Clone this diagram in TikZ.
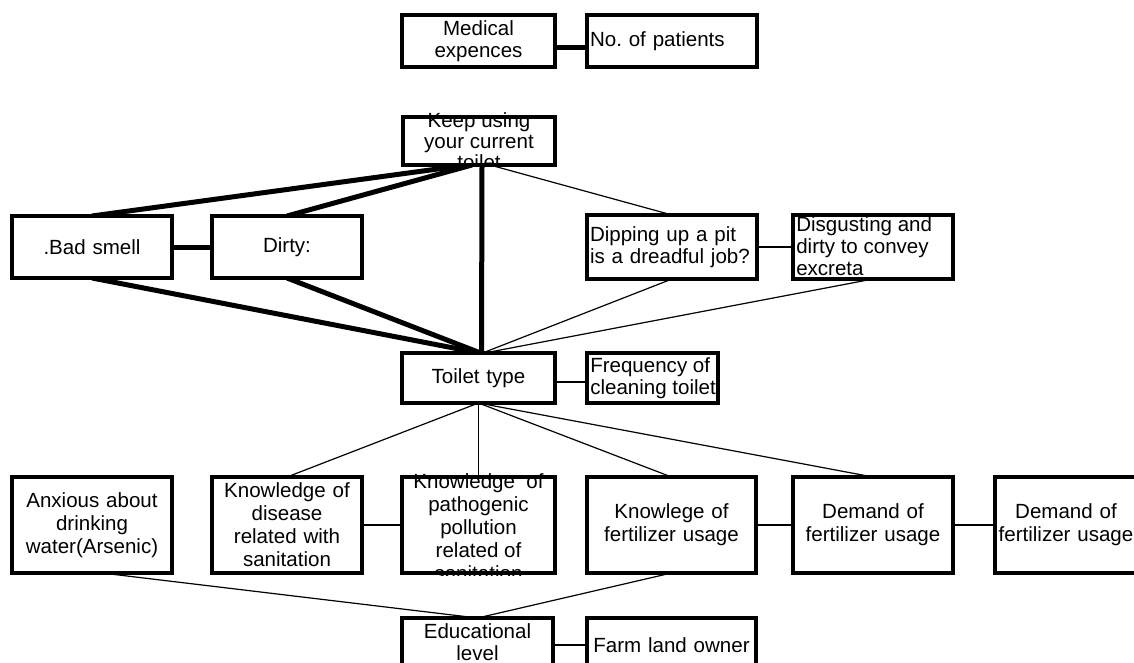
\documentclass[tikz,border=0pt]{standalone}
\usepackage{fontspec}
\setmainfont{Liberation Sans}
\usetikzlibrary{calc}
\hyphenpenalty=10000
\exhyphenpenalty=10000
\begin{document}
\begin{tikzpicture}[x=0.75pt,y=-0.75pt,
 box/.style={draw, line width=3pt, fill=white, outer sep=0pt, inner xsep=2.25pt, inner ysep=0pt, align=center, font=\fontsize{15.4}{16.5}\selectfont},
 lbox/.style={box, align=left},
 lowbox/.style={box, minimum height=72pt, font=\fontsize{15.4}{17.25}\selectfont},
 thk/.style={line width=3.75pt},
 thn/.style={line width=0.9pt},
 txt/.style={inner sep=0pt, align=center, font=\fontsize{15.4}{16.5}\selectfont},
 border/.style={line width=3pt}
]
\useasboundingbox (0,0) rectangle (1134,663);

% ---------- box positions ----------
\path
 (478.5,41) coordinate (pmedical)
 (672,41) coordinate (ppatients)
 (479,141) coordinate (pkeep)
 (92,247) coordinate (pbad)
 (287,247) coordinate (pdirty)
 (672,247) coordinate (pdipping)
 (873,247) coordinate (pdisgust)
 (478.5,378) coordinate (ptoilet)
 (652.5,378) coordinate (pfreq)
 (92,525) coordinate (panxious)
 (287,525) coordinate (pdisease)
 (478.5,525) coordinate (ppatho)
 (671.5,525) coordinate (pknowfert)
 (873,525) coordinate (pdemanda)
 (1066,525) coordinate (pdemandb)
 (477.5,645) coordinate (pedu)
 (671.5,645) coordinate (pfarm);

% helper nodes to attach connectors before the boxes are painted
\path[outer sep=0pt, inner sep=0pt]
 node[minimum width=114.75pt, minimum height=39pt] (medical) at (pmedical) {}
 node[minimum width=127.5pt, minimum height=39pt] (patients) at (ppatients) {}
 node[minimum width=114pt, minimum height=36pt] (keep) at (pkeep) {}
 node[minimum width=120pt, minimum height=46.5pt] (bad) at (pbad) {}
 node[minimum width=112.5pt, minimum height=46.5pt] (dirty) at (pdirty) {}
 node[minimum width=127.5pt, minimum height=48pt] (dipping) at (pdipping) {}
 node[minimum width=120pt, minimum height=48pt] (disgust) at (pdisgust) {}
 node[minimum width=114.75pt, minimum height=37.5pt] (toilet) at (ptoilet) {}
 node[minimum width=98.25pt, minimum height=37.5pt] (freq) at (pfreq) {}
 node[minimum width=120pt, minimum height=72pt] (anxious) at (panxious) {}
 node[minimum width=112.5pt, minimum height=72pt] (disease) at (pdisease) {}
 node[minimum width=114.75pt, minimum height=72pt] (patho) at (ppatho) {}
 node[minimum width=126.75pt, minimum height=72pt] (knowfert) at (pknowfert) {}
 node[minimum width=120pt, minimum height=72pt] (demanda) at (pdemanda) {}
 node[minimum width=106.5pt, minimum height=72pt] (demandb) at (pdemandb) {}
 node[minimum width=113.25pt, minimum height=40.5pt] (edu) at (pedu) {}
 node[minimum width=126.75pt, minimum height=40.5pt] (farm) at (pfarm) {};

% ---------- connectors ----------
\draw[thk] ([yshift=-5.25pt]medical.east) -- ([yshift=-5.25pt]patients.west);
\draw[thk] (bad.north) -- ([xshift=-9pt]keep.south);
\draw[thk] (dirty.north) -- ([xshift=-5.25pt]keep.south);
\draw[thk] ([xshift=2.25pt]keep.south) -- ([xshift=2.25pt]toilet.north);
\draw[thn] ([xshift=8.25pt]keep.south) -- (dipping.north);
\draw[thk] (bad.east) -- (dirty.west);
\draw[thk] (bad.south) -- ([xshift=0.75pt]toilet.north);
\draw[thk] (dirty.south) -- ([xshift=1.5pt]toilet.north);
\draw[thn] (dipping.south) -- ([xshift=3pt]toilet.north);
\draw[thn] (disgust.south) -- ([xshift=4.5pt]toilet.north);
\draw[thn] (dipping.east) -- (disgust.west);
\draw[thn] ([yshift=-3pt]toilet.east) -- ([yshift=-3pt]freq.west);
\draw[thn] (toilet.south) -- (disease.north);
\draw[thn] (toilet.south) -- (patho.north);
\draw[thn] (toilet.south) -- (knowfert.north);
\draw[thn] (toilet.south) -- (demanda.north);
\draw[thn] (disease.east) -- (patho.west);
\draw[thn] (knowfert.east) -- (demanda.west);
\draw[thn] (demanda.east) -- (demandb.west);
\draw[thn] ([xshift=7.5pt]anxious.south) -- (edu.north);
\draw[thn] (knowfert.south) -- (edu.north);
\draw[thn] (edu.east) -- (farm.west);

% ---------- boxes ----------
\node[box, text width=110.25pt, minimum height=39pt] (medicalbox) at (pmedical) {Medical\\expences};
\node[lbox, text width=123pt, minimum height=39pt] (patientsbox) at (ppatients) {No.~of~patients};

\node[box, minimum width=114pt, minimum height=36pt] (keepbox) at (pkeep) {};
\begin{scope}
 \clip ($(keepbox.north west)+(-3,-6)$) rectangle ($(keepbox.south east)+(3,2)$);
 \node[txt, font=\fontsize{15.4}{15.75}\selectfont] (keeptext) at (pkeep) {Keep~using\\your~current\\toilet};
\end{scope}
\draw[border] (keepbox.north west) rectangle (keepbox.south east);

\node[box, text width=115.5pt, minimum height=46.5pt] (badbox) at (pbad) {.Bad~smell};
\node[box, text width=108pt, minimum height=46.5pt] (dirtybox) at (pdirty) {Dirty:};
\node[lbox, text width=123pt, minimum height=48pt] (dippingbox) at (pdipping) {Dipping~up~a~pit\\is~a~dreadful~job?};

\node[box, minimum width=120pt, minimum height=48pt] (disgustbox) at (pdisgust) {};
\begin{scope}
 \clip ($(disgustbox.north west)+(-3,-1)$) rectangle ($(disgustbox.south east)+(3,1)$);
 \node[txt, align=left, anchor=west, font=\fontsize{15.4}{16.5}\selectfont] (disgusttext) at ($(disgustbox.west)+(3,-1)$) {Disgusting~and\\dirty~to~convey\\excreta};
\end{scope}
\draw[border] (disgustbox.north west) rectangle (disgustbox.south east);

\node[box, text width=110.25pt, minimum height=37.5pt] (toiletbox) at (ptoilet) {Toilet~type};
\node[box, minimum width=98.25pt, minimum height=37.5pt] (freqbox) at (pfreq) {};
\node[txt, align=left, anchor=west] (freqtext) at ($(freqbox.west)+(3,0)$) {Frequency~of\\cleaning~toilet};

\node[lowbox, text width=115.5pt] (anxiousbox) at (panxious) {Anxious~about\\drinking\\water(Arsenic)};
\node[lowbox, text width=108pt] (diseasebox) at (pdisease) {Knowledge~of\\disease\\related~with\\sanitation};

\node[box, minimum width=114.75pt, minimum height=72pt] (pathobox) at (ppatho) {};
\begin{scope}
 \clip ($(pathobox.north west)+(-3,-6)$) rectangle ($(pathobox.south east)+(3,2)$);
 \node[txt, font=\fontsize{15.4}{17.25}\selectfont] (pathotext) at ($(ppatho)+(0,2)$) {Knowledge~~of\\pathogenic\\pollution\\related~of\\sanitation};
\end{scope}
\draw[border] (pathobox.north west) rectangle (pathobox.south east);

\node[lowbox, text width=122.25pt] (knowfertbox) at (pknowfert) {Knowlege~of\\fertilizer~usage};
\node[lowbox, text width=115.5pt] (demandabox) at (pdemanda) {Demand~of\\fertilizer~usage};
\node[lowbox, text width=102pt] (demandbbox) at (pdemandb) {Demand~of\\fertilizer~usage};

\node[box, minimum width=113.25pt, minimum height=40.5pt] (edubox) at (pedu) {};
\node[txt] (edutext) at ($(pedu)+(0,-3)$) {Educational\\level};
\node[box, text width=122.25pt, minimum height=40.5pt] (farmbox) at (pfarm) {Farm~land~owner};
\end{tikzpicture}
\end{document}
